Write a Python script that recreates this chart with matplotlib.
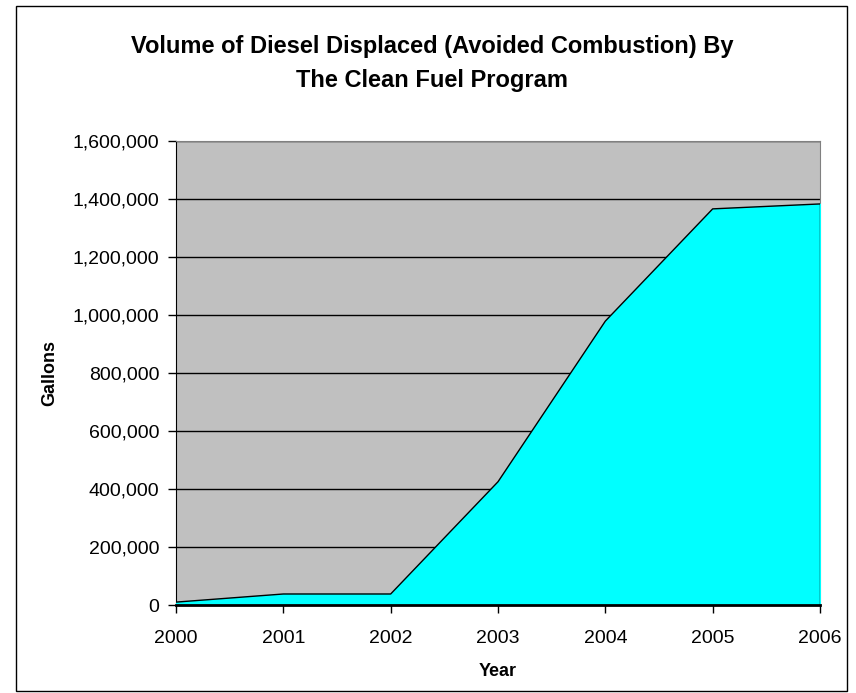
import matplotlib
matplotlib.use("Agg")
import matplotlib.pyplot as plt
from matplotlib.patches import Rectangle
from matplotlib.ticker import FuncFormatter

plt.rcParams["font.family"] = ["Liberation Sans", "DejaVu Sans"]

years   = [2000, 2001, 2002, 2003, 2004, 2005, 2006]
gallons = [11000, 39000, 39000, 426000, 980000, 1367000, 1384000]
y_ticks = [0, 200000, 400000, 600000, 800000, 1000000, 1200000, 1400000, 1600000]

fig = plt.figure(figsize=(8.56, 6.93), dpi=100)
fig.patch.set_facecolor("white")

# outer chart frame
fig.patches.append(Rectangle((16 / 856, 1 - 691 / 693), 831 / 856, 685 / 693,
                             transform=fig.transFigure, fill=False,
                             edgecolor="black", lw=1.0))

ax = fig.add_axes([176 / 856, 1 - 605.3 / 693, 644 / 856, 464 / 693])
ax.set_facecolor("#C0C0C0")

ax.fill_between(years, gallons, 0, color="#00FFFF", zorder=3)
ax.plot(years, gallons, color="black", lw=1.0, zorder=4)
ax.plot([years[-1], years[-1]], [0, gallons[-1]], color="black", lw=1.0, zorder=4)

ax.set_xlim(years[0], years[-1])
ax.set_ylim(0, 1600000)
ax.set_xticks(years)
ax.set_yticks(y_ticks)
ax.yaxis.set_major_formatter(FuncFormatter(lambda v, p: f"{int(v):,}"))
ax.grid(axis="y", color="black", lw=1.0, zorder=1)
ax.set_axisbelow(True)

for side in ("top", "right"):
    ax.spines[side].set_color("#808080")
ax.spines["left"].set_color("black")
ax.spines["bottom"].set_color("black")
ax.spines["bottom"].set_linewidth(2.0)
ax.spines["bottom"].set_zorder(5)

ax.tick_params(axis="both", direction="out", length=6, width=1,
               labelsize=14, colors="black", pad=6)
ax.tick_params(axis="x", pad=12)

ax.set_xlabel("Year", fontsize=13, fontweight="bold", labelpad=11)
ax.set_ylabel("Gallons", fontsize=13, fontweight="bold", labelpad=10)

fig.text(432 / 856, 1 - 47 / 693,
         "Volume of Diesel Displaced (Avoided Combustion) By",
         ha="center", va="center", fontsize=17, fontweight="bold")
fig.text(432 / 856, 1 - 81 / 693, "The Clean Fuel Program",
         ha="center", va="center", fontsize=17, fontweight="bold")

fig.savefig("out.png", dpi=100)
